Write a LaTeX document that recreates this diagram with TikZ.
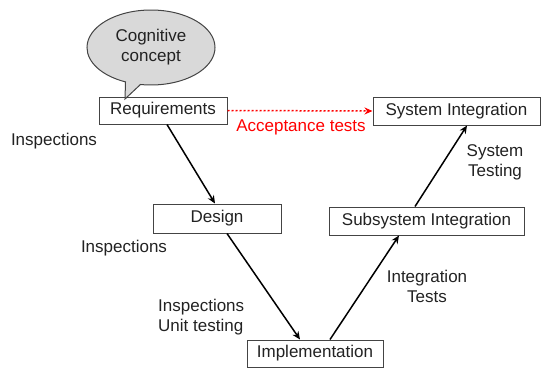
\documentclass[tikz,border=0pt]{standalone}
\usepackage{fontspec}
\setmainfont{Liberation Sans}
\usetikzlibrary{shapes.callouts,arrows.meta}
\definecolor{txt}{HTML}{222222}
\definecolor{edge}{HTML}{444444}
\definecolor{bubble}{HTML}{D9D9D9}
\begin{document}
\begin{tikzpicture}[x=1pt,y=-1pt,
  every node/.style={font=\fontsize{17}{20}\selectfont, text=txt, inner sep=0pt},
  box/.style={draw=edge, line width=1pt, fill=white, rectangle},
  lbl/.style={align=center},
  arr/.style={-{Stealth[length=8pt,width=7pt]}, line width=1.5pt, black},
  acc/.style={-{Stealth[length=8pt,width=7pt]}, red, dash pattern=on 2pt off 2pt, line width=1.5pt}]
\useasboundingbox (0,0) rectangle (555,368);
\node[box, minimum width=128pt, minimum height=27pt] (req) at (163,110.5) {Requirements};
\node[box, minimum width=167pt, minimum height=28pt] (sys) at (456.5,111) {System Integration};
\node[box, minimum width=128pt, minimum height=29pt] (des) at (217,218.5) {Design};
\node[box, minimum width=195pt, minimum height=28pt] (sub) at (426.5,221) {Subsystem Integration};
\node[box, minimum width=136pt, minimum height=27pt] (imp) at (315,353.5) {Implementation};
\coordinate (tip) at (125,99);
\node[ellipse callout, draw=edge, line width=1pt, fill=bubble, minimum width=128pt, minimum height=75pt,
  callout absolute pointer={(tip)}, callout pointer arc=14, align=center] (cog) at (151,47.5)
  {Cognitive\\concept};
\draw[arr] ([xshift=4pt]req.south) -- ([xshift=-2pt]des.north);
\draw[arr] ([xshift=10pt]des.south) -- ([xshift=-15pt]imp.north);
\draw[arr] ([xshift=15pt]imp.north) -- ([xshift=-27.5pt]sub.south);
\draw[arr] ([xshift=-11.5pt]sub.north) -- ([xshift=10.5pt]sys.south);
\draw[acc] (req.east) -- (sys.west);
\node (acct) at (301,127) {\color{red}Acceptance tests};
\node (i1) at (54,141) {Inspections};
\node (i2) at (124,248) {Inspections};
\node[align=left, anchor=west] (i3) at (158,317) {Inspections\\Unit testing};
\node[lbl] (it) at (427,286) {Integration\\Tests};
\node[lbl] (st) at (495,162.5) {System\\Testing};
\end{tikzpicture}
\end{document}
